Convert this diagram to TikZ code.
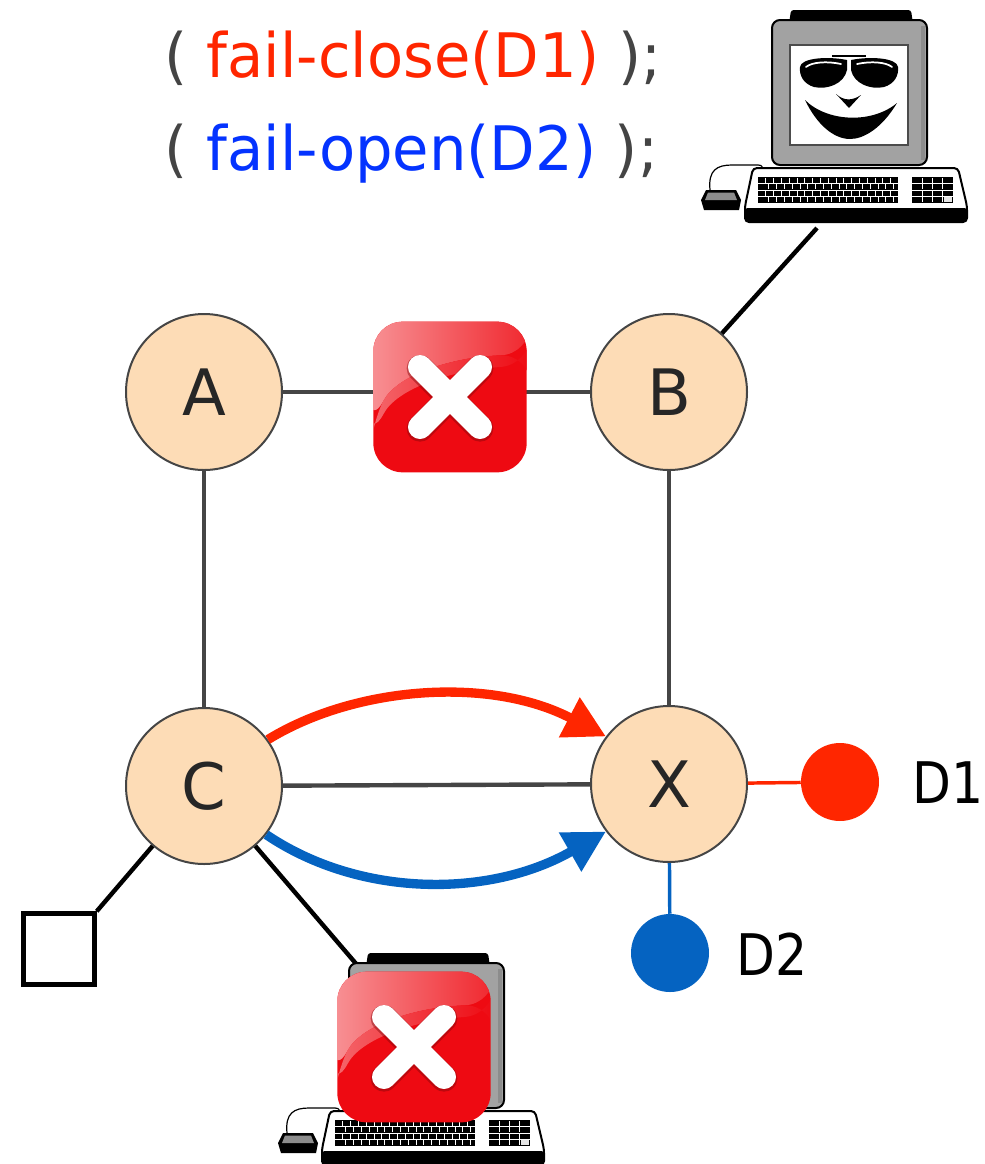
\documentclass[tikz,border=0pt]{standalone}
\usepackage{fontspec}
\usepackage{graphicx}
\setmainfont{DejaVu Sans}
\usetikzlibrary{arrows.meta}

\definecolor{peach}{HTML}{FDDCB6}
\definecolor{edgegray}{HTML}{454545}
\definecolor{textgray}{HTML}{444444}
\definecolor{failred}{HTML}{FF2600}
\definecolor{openblue}{HTML}{0433FF}
\definecolor{pathblue}{HTML}{0563C1}
\definecolor{stopred}{HTML}{EE0A12}
\definecolor{casegray}{HTML}{A2A2A2}

\tikzset{
  router/.style={circle, draw=edgegray, line width=1.5pt, fill=peach,
    minimum size=117pt, inner sep=0pt, text=black!85,
    font=\fontsize{48}{48}\selectfont},
  link/.style={draw=edgegray, line width=3.3pt},
  wire/.style={draw=black, line width=3.3pt},
  failpath/.style={draw=failred, line width=7pt,
    -{Triangle[length=31pt, width=32pt]}},
  openpath/.style={draw=pathblue, line width=7pt,
    -{Triangle[length=31pt, width=32pt]}},
  dest/.style={circle, minimum size=58.5pt, inner sep=0pt},
  destlabel/.style={anchor=west, inner sep=0pt, text=black,
    font=\fontsize{43}{43}\selectfont},
  rulelabel/.style={anchor=base west, font=\fontsize{46}{52}\selectfont},
  terminal/.style={rectangle, draw=black, line width=3.6pt, fill=white,
    minimum size=53pt, inner sep=0pt},
  stopicon/.style={rectangle, rounded corners=22pt, fill=stopred,
    minimum width=115pt, minimum height=113pt, inner sep=0pt,
    path picture={
      \begin{scope}[shift={(path picture bounding box.center)}, x=1pt, y=1pt]
        \shade[left color=stopred!45!white, right color=stopred!88!white]
          (-60,-22) .. controls (-40,16) and (0,30) .. (60,32)
          -- (60,60) -- (-60,60) -- cycle;
        \shade[left color=stopred!62!white, right color=stopred]
          (-60,-22) .. controls (-40,16) and (0,30) .. (60,32)
          -- (60,24) .. controls (0,20) and (-40,6) .. (-60,-32) -- cycle;
        \draw[stopred!55!black, opacity=0.45, line width=20pt, line cap=round]
          (-22.5,21.5) -- (22.5,-23.5) (-22.5,-23.5) -- (22.5,21.5);
        \draw[white, line width=18pt, line cap=round]
          (-22.5,22.5) -- (22.5,-22.5) (-22.5,-22.5) -- (22.5,22.5);
      \end{scope}
    }},
  pics/workstation/.style={code={
    % monitor top bar
    \fill[black, rounded corners=2pt] (17,14) -- (19,0) -- (139,0) -- (141,14) -- cycle;
    % monitor case
    \draw[black, line width=1.5pt, fill=casegray, rounded corners=6pt]
      (0,10) rectangle (155,155);
    \fill[black!45] (149,16) rectangle (153,150);
    % screen
    \draw[black!70, line width=1.2pt, fill=white] (18,35) rectangle (136,135);
    % sunglasses
    \fill[black] (28,57) .. controls (29,48) and (55,46) .. (75,50) -- (75,60)
      .. controls (72,74) and (55,80) .. (42,77)
      .. controls (32,74) and (27,66) .. (28,57) -- cycle;
    \fill[black] (126,57) .. controls (125,48) and (99,46) .. (79,50) -- (79,60)
      .. controls (82,74) and (99,80) .. (112,77)
      .. controls (122,74) and (127,66) .. (126,57) -- cycle;
    \draw[black, line width=2.2pt] (60,46) -- (94,46);
    \draw[white, line width=1.3pt, line cap=round]
      (34,57) .. controls (40,52) and (55,51) .. (69,54);
    \draw[white, line width=1.3pt, line cap=round]
      (120,57) .. controls (114,52) and (99,51) .. (85,54);
    % nose
    \fill[black] (64,84) -- (77,98) -- (89,85) .. controls (80,91) and (72,91) .. (64,84) -- cycle;
    % smile
    \fill[black] (33,90) .. controls (55,112) and (100,114) .. (125,93)
      .. controls (110,118) and (92,129) .. (78,129)
      .. controls (62,129) and (45,115) .. (33,90) -- cycle;
    % mouse cord
    \draw[black, line width=0.9pt] (-62,180) .. controls (-64,160) and (-55,155) .. (-40,155)
      -- (-14,155) .. controls (-9,155) and (-9,158) .. (-11,160);
    % keyboard
    \draw[black, line width=1.5pt, fill=white, rounded corners=3pt]
      (-19,158) -- (186,158) -- (195,196) -- (195,212) -- (-27,212) -- (-27,196) -- cycle;
    \fill[black, rounded corners=2pt] (-27,198) rectangle (195,212);
    \fill[black] (-14,167) rectangle (126,193);
    \fill[black] (140,167) rectangle (181,193);
    \foreach \r in {1,2,3} {
      \draw[white, line width=0.6pt] (-14,{167+\r*6.5}) -- (126,{167+\r*6.5});
      \draw[white, line width=0.6pt] (140,{167+\r*6.5}) -- (181,{167+\r*6.5});
    }
    \foreach \r in {0,...,3} {
      \foreach \k in {1,...,17}
        \draw[white, line width=0.6pt] ({-14+\k*7.8+mod(\r,2)*3},{167+\r*6.5+0.8}) -- ++(0,4.9);
      \foreach \k in {1,2,3}
        \draw[white, line width=0.6pt] ({140+\k*10.25},{167+\r*6.5+0.8}) -- ++(0,4.9);
    }
    \fill[white!80!gray] (172,187) rectangle (179.5,192);
    % mouse
    \fill[black] (-66,180) -- (-36,180) -- (-31,190) -- (-33,200) -- (-68,200) -- (-71,190) -- cycle;
    \fill[black!45] (-64,182.5) -- (-38,182.5) -- (-35,190) -- (-67,190) -- cycle;
  }}
}

\begin{document}
\begin{tikzpicture}[x=0.75pt, y=-0.75pt]
  \useasboundingbox (0,0) rectangle (985,1164);

  % flow rules
  \node[rulelabel] (ruleclose) at (160,77)
    {\scalebox{0.965}[1]{\textcolor{textgray}{(} \textcolor{failred}{fail-close(D1)} \textcolor{textgray}{);}}};
  \node[rulelabel] (ruleopen) at (160,170)
    {\scalebox{0.965}[1]{\textcolor{textgray}{(} \textcolor{openblue}{fail-open(D2)} \textcolor{textgray}{);}}};

  % switches
  \node[router] (A) at (204,392) {A};
  \node[router] (B) at (669,392) {B};
  \node[router] (C) at (204,786) {C};
  \node[router] (X) at (669,784) {X};

  % destinations and host
  \node[dest, fill=failred] (D1) at (840,782) {};
  \node[dest, fill=pathblue] (D2) at (670,953) {};
  \node[destlabel] (D1lab) at (912,783) {\scalebox{0.88}[1]{D1}};
  \node[destlabel] (D2lab) at (736,954) {\scalebox{0.88}[1]{D2}};
  \node[terminal] (host) at (59,949) {};

  \coordinate (pcTop) at (817,228);
  \coordinate (pcBot) at (358,966);

  % links
  \draw[link] (A) -- (B);
  \draw[link] (A) -- (C);
  \draw[link] (B) -- (X);
  \draw[link] (C) -- (X);
  \draw[draw=failred, line width=2.6pt] (X) -- (D1);
  \draw[draw=pathblue, line width=2.6pt] (X) -- (D2);
  \draw[wire] (B) -- (pcTop);
  \draw[wire] (C) -- (host.north east);
  \draw[wire] (C) -- (pcBot);

  % paths of the two rules
  \draw[failpath] (C.36) .. controls (355,686) and (490,676) .. (X.143);
  \draw[openpath] (C.-38) .. controls (360,898) and (490,898) .. (X.-143);

  % controller and failed workstation
  \pic at (772,10) {workstation};
  \pic at (349,953) {workstation};

  % failures
  \node[stopicon] (cutAB) at (450,397) {};
  \node[stopicon] (cutPC) at (414,1047) {};
\end{tikzpicture}
\end{document}
